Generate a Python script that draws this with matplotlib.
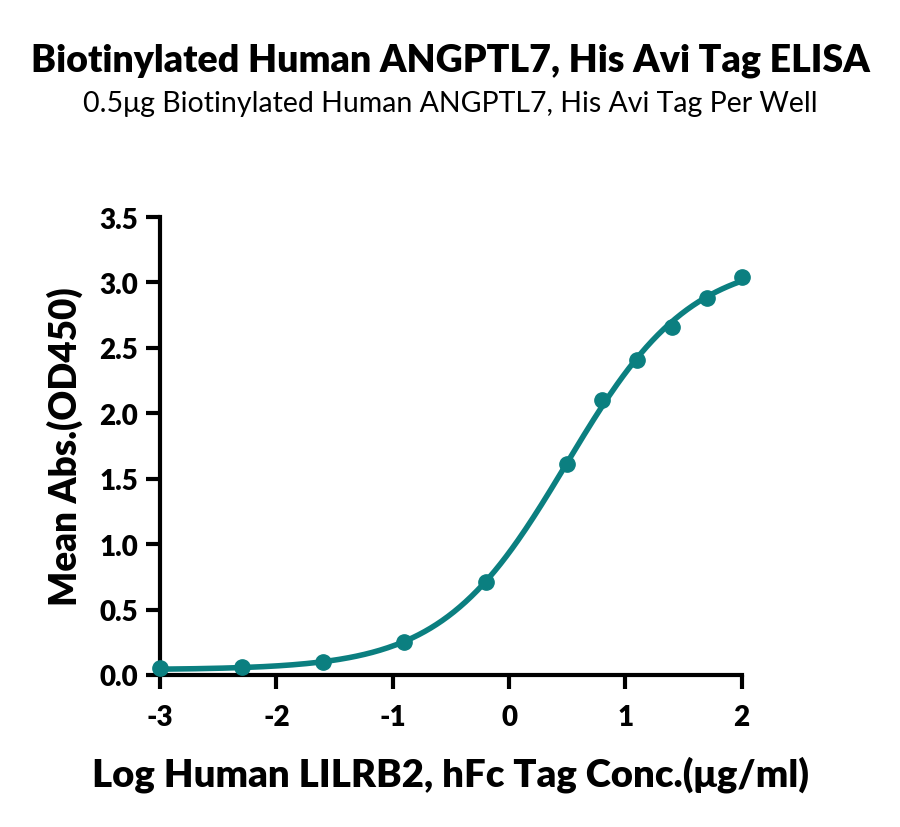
import matplotlib
matplotlib.use('Agg')
import matplotlib.pyplot as plt
import numpy as np

log_conc = [-3.0, -2.3, -1.6, -0.9, -0.2, 0.5, 0.8, 1.1, 1.4, 1.7, 2.0]
mean_abs = [0.05, 0.06, 0.10, 0.25, 0.71, 1.61, 2.10, 2.41, 2.66, 2.88, 3.04]

x_ticks = [-3, -2, -1, 0, 1, 2]
y_ticks = [0.0, 0.5, 1.0, 1.5, 2.0, 2.5, 3.0, 3.5]

title = 'Biotinylated Human ANGPTL7, His Avi Tag ELISA'
subtitle = '0.5\u03bcg Biotinylated Human ANGPTL7, His Avi Tag Per Well'
xlabel = 'Log Human LILRB2, hFc Tag Conc.(\u03bcg/ml)'
ylabel = 'Mean Abs.(OD450)'

teal = '#0b7f80'
plt.rcParams['font.family'] = ['Lato', 'DejaVu Sans']


def four_pl(x, p):
    bottom, top, logec50, hill = p
    return bottom + (top - bottom) / (1 + 10 ** ((logec50 - x) * hill))


# simple Levenberg-Marquardt 4PL fit to the points
xd = np.array(log_conc)
yd = np.array(mean_abs)
p = np.array([yd.min(), yd.max() * 1.1, 0.4, 1.0])
lam = 1e-2
for _ in range(300):
    r = yd - four_pl(xd, p)
    J = np.empty((len(xd), 4))
    for k in range(4):
        dp = np.zeros(4)
        dp[k] = 1e-6
        J[:, k] = (four_pl(xd, p + dp) - four_pl(xd, p - dp)) / 2e-6
    A = J.T @ J
    step = np.linalg.solve(A + lam * np.diag(np.diag(A)), J.T @ r)
    p_new = p + step
    if np.sum((yd - four_pl(xd, p_new)) ** 2) < np.sum(r ** 2):
        p = p_new
        lam *= 0.5
    else:
        lam *= 3

xs = np.linspace(min(log_conc), max(log_conc), 300)

fig = plt.figure(figsize=(9, 8.28), dpi=100)
ax = fig.add_axes([0.178, 0.1836, 0.646, 0.5531])

ax.plot(xs, four_pl(xs, p), color=teal, linewidth=4, zorder=3, clip_on=False)
ax.plot(log_conc, mean_abs, 'o', color=teal, markersize=11, zorder=4, clip_on=False)

ax.set_xlim(-3, 2)
ax.set_ylim(0, 3.5)
ax.set_xticks(x_ticks)
ax.set_xticklabels([str(t) for t in x_ticks])
ax.set_yticks(y_ticks)
ax.set_yticklabels([f'{t:.1f}' for t in y_ticks])

for s in ['top', 'right']:
    ax.spines[s].set_visible(False)
for s in ['left', 'bottom']:
    ax.spines[s].set_linewidth(3)
ax.tick_params(width=3, length=10, labelsize=20, pad=6)
ax.tick_params(axis='x', pad=11)
for lbl in ax.get_xticklabels() + ax.get_yticklabels():
    lbl.set_fontweight('heavy')

ax.set_xlabel(xlabel, fontsize=27.5, fontweight='heavy', labelpad=18)
ax.set_ylabel(ylabel, fontsize=26.5, fontweight='heavy', labelpad=12)

fig.text(0.5, 0.927, title, ha='center', va='center', fontsize=27, fontweight='heavy')
fig.text(0.5, 0.874, subtitle, ha='center', va='center', fontsize=20.5)

fig.savefig('out.png', dpi=100, facecolor='white')
